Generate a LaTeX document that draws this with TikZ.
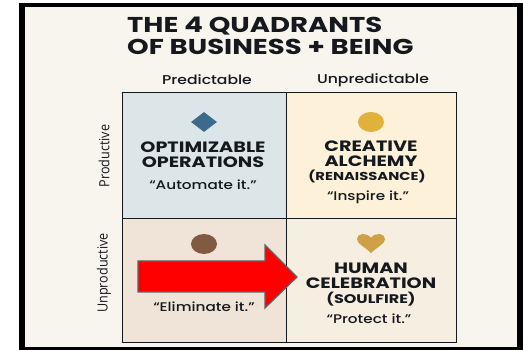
\documentclass[tikz,border=0pt]{standalone}
\usepackage{fontspec}
\setmainfont{Poppins}[FakeStretch=1.24,BoldFeatures={FakeStretch=1.28}]
\newfontfamily\labelfont{Open Sans}[FakeStretch=0.9]
\newfontfamily\quotefont{Poppins Medium}[FakeStretch=1.22]
\usetikzlibrary{shapes.geometric}
\definecolor{ink}{HTML}{15181C}
\definecolor{paper}{HTML}{F8F4EE}
\definecolor{bluecell}{HTML}{DCE6E8}
\definecolor{yellowcell}{HTML}{FDF1D9}
\definecolor{tancell}{HTML}{EFE4D7}
\definecolor{creamcell}{HTML}{F5EEE1}
\definecolor{markblue}{HTML}{3C6A8A}
\definecolor{markgold}{HTML}{E0B23C}
\definecolor{markbrown}{HTML}{815A42}
\definecolor{markheart}{HTML}{CFA045}
\definecolor{arrowedge}{HTML}{5F6468}
\tikzset{
  cell/.style={draw=ink,line width=1.4pt,minimum width=#1,inner sep=0pt,anchor=north west},
  head/.style={font=\quotefont\fontsize{12.8}{15}\selectfont,text=ink,align=center,inner sep=0pt},
  side/.style={font=\labelfont\fontsize{14}{15}\selectfont,text=ink,rotate=90,inner sep=0pt},
  cname/.style={font=\fontsize{15}{15}\selectfont\bfseries,text=ink,align=center,inner sep=0pt},
  csub/.style={font=\fontsize{#1}{14}\selectfont\bfseries,text=ink,inner sep=0pt},
  quote/.style={font=\quotefont\fontsize{12.5}{15}\selectfont,text=ink,inner sep=0pt},
}
\begin{document}
\begin{tikzpicture}[x=1pt,y=-1pt]
\useasboundingbox (0,0) rectangle (523,350);
\fill[white] (0,0) rectangle (523,350);
\fill[black] (19,3) rectangle (523,350);
\fill[paper] (25,7) rectangle (517,347);
\node[anchor=north west,align=left,inner sep=0pt,text=ink,font=\fontsize{21.5}{22}\selectfont\bfseries] (title) at (127,17) {THE 4 QUADRANTS\\OF BUSINESS + BEING};
\node[head] (hp) at (207,80) {Predictable};
\node[head] (hu) at (373,80) {Unpredictable};
\node[cell=164pt,minimum height=126pt,fill=bluecell] (q1) at (122,92) {};
\node[cell=170pt,minimum height=126pt,fill=yellowcell] (q2) at (286,92) {};
\node[cell=164pt,minimum height=124pt,fill=tancell] (q3) at (122,218) {};
\node[cell=170pt,minimum height=124pt,fill=creamcell] (q4) at (286,218) {};
\node[side] (sp) at (104,156) {Productive};
\node[side] (su) at (104,273) {Unproductive};
\node[diamond,fill=markblue,minimum width=26pt,minimum height=20pt,inner sep=0pt] (d1) at (204,122) {};
\node[ellipse,fill=markgold,minimum width=26pt,minimum height=20pt,inner sep=0pt] (d2) at (371,122) {};
\node[ellipse,fill=markbrown,minimum width=26pt,minimum height=20pt,inner sep=0pt] (d3) at (204,244) {};
\node[cname] (t1) at (203,154.5) {OPTIMIZABLE\\OPERATIONS};
\node[quote] (q1t) at (203,185) {“Automate it.”};
\node[cname] (t2) at (371,153.5) {CREATIVE\\ALCHEMY};
\node[csub=11.5] (s2) at (367,176) {(RENAISSANCE)};
\node[quote] (q2t) at (368,197) {“Inspire it.”};
\node[quote] (q3t) at (204,307) {“Eliminate it.”};
\node[cname] (t4) at (371,276) {HUMAN\\CELEBRATION};
\node[csub=12.5] (s4) at (371,299) {(SOULFIRE)};
\node[quote] (q4t) at (369,319) {“Protect it.”};
\fill[markheart] (371,253) .. controls (365,247) and (357,244) .. (357,239)
  .. controls (357,233) and (367,232) .. (371,238)
  .. controls (375,232) and (385,233) .. (385,239)
  .. controls (385,244) and (377,247) .. (371,253) -- cycle;
\draw[draw=arrowedge,fill=red,line width=1.2pt,line join=miter] (138,261) -- (265,261) -- (265,245) -- (297,277) -- (265,308) -- (265,292) -- (138,292) -- cycle;
\end{tikzpicture}
\end{document}
